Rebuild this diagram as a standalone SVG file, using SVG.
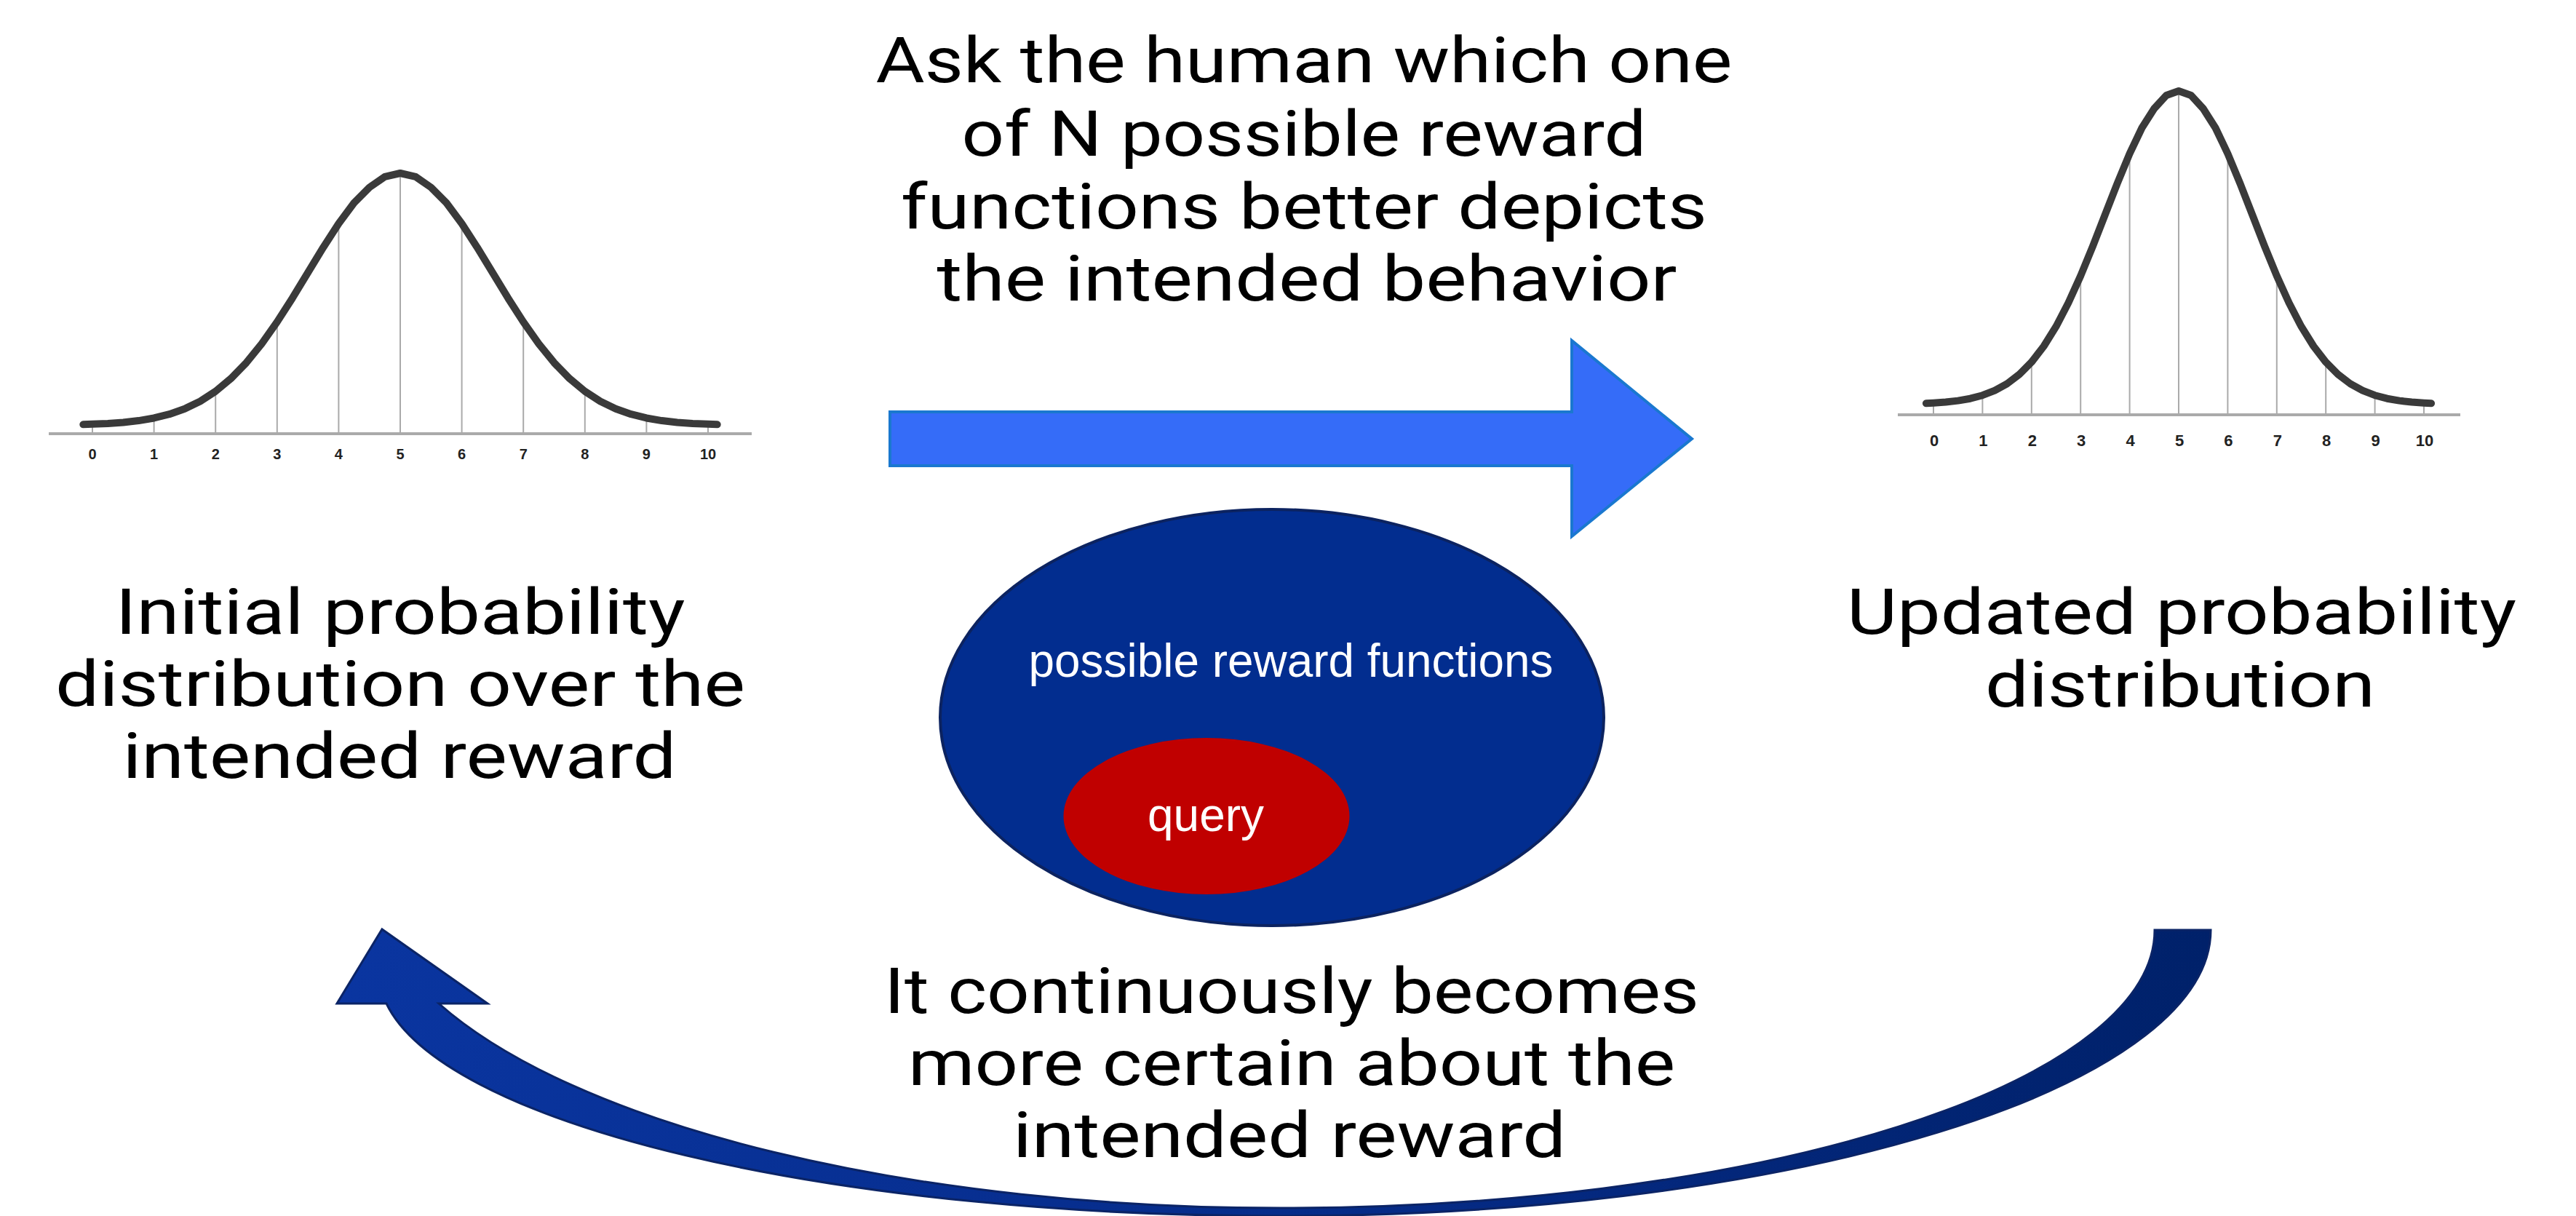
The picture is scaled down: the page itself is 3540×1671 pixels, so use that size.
<svg xmlns="http://www.w3.org/2000/svg" width="3540" height="1671" viewBox="0 0 3540 1671">
  <style>
    .lbl { font-family: Roboto, "Liberation Sans", sans-serif; font-size: 88px; fill: #000; text-anchor: middle; }
    .tick { font-family: "Liberation Sans", Arial, sans-serif; font-weight: bold; fill: #222; text-anchor: middle; }
    .inner { font-family: "Liberation Sans", Arial, sans-serif; font-size: 64px; fill: #fff; text-anchor: middle; }
    .axis { stroke: #aaaaaa; stroke-width: 4; fill: none; }
    .vline { stroke: #aaaaaa; stroke-width: 2; fill: none; }
    .bell { stroke: #3a3a3a; stroke-width: 10; fill: none; stroke-linecap: round; stroke-linejoin: round; }
  </style>
  <defs>
    <path id="bellCurve" vector-effect="non-scaling-stroke" d="M-515,-35.4 L-500,-36.7 L-475,-39.3 L-450,-43.5 L-425,-50.1 L-400,-60.2 L-375,-74.9 L-350,-95.8 L-325,-124.5 L-300,-162.7 L-275,-211.8 L-250,-272.6 L-225,-345.4 L-200,-429 L-175,-521.1 L-150,-618.2 L-125,-715.2 L-100,-806.6 L-75,-885.9 L-50,-945.5 L-25,-986.6 L0,-1000 L25,-986.6 L50,-945.5 L75,-885.9 L100,-806.6 L125,-715.2 L150,-618.2 L175,-521.1 L200,-429 L225,-345.4 L250,-272.6 L275,-211.8 L300,-162.7 L325,-124.5 L350,-95.8 L375,-74.9 L400,-60.2 L425,-50.1 L450,-43.5 L475,-39.3 L500,-36.7 L515,-35.4"/>
    <path id="bellLines" vector-effect="non-scaling-stroke" d="M-500,0V-36.7 M-400,0V-60.2 M-300,0V-162.7 M-200,0V-429 M-100,0V-806.6 M0,0V-1000 M100,0V-806.6 M200,0V-429 M300,0V-162.7 M400,0V-60.2 M500,0V-36.7"/>
    <linearGradient id="loopGrad" x1="0" y1="0" x2="1" y2="0">
      <stop offset="0" stop-color="#0a35a0"/>
      <stop offset="0.5" stop-color="#062c8a"/>
      <stop offset="1" stop-color="#00216a"/>
    </linearGradient>
  </defs>

  <rect x="0" y="0" width="3540" height="1671" fill="#ffffff"/>

  <!-- Left distribution node -->
  <g id="initial-distribution">
    <line class="axis" x1="67" y1="596" x2="1033" y2="596"/>
    <g transform="translate(550,596) scale(0.846,0.358)">
      <use href="#bellLines" class="vline"/>
      <use href="#bellCurve" class="bell"/>
    </g>
    <g class="tick" font-size="20">
      <text x="127" y="631">0</text>
      <text x="211.6" y="631">1</text>
      <text x="296.2" y="631">2</text>
      <text x="380.8" y="631">3</text>
      <text x="465.4" y="631">4</text>
      <text x="550" y="631">5</text>
      <text x="634.6" y="631">6</text>
      <text x="719.2" y="631">7</text>
      <text x="803.8" y="631">8</text>
      <text x="888.4" y="631">9</text>
      <text x="973" y="631">10</text>
    </g>
    <text class="lbl" x="550" y="871" textLength="783" lengthAdjust="spacingAndGlyphs">Initial probability</text>
    <text class="lbl" x="550" y="970" textLength="948" lengthAdjust="spacingAndGlyphs">distribution over the</text>
    <text class="lbl" x="549" y="1069" textLength="761" lengthAdjust="spacingAndGlyphs">intended reward</text>
  </g>

  <!-- Right distribution node -->
  <g id="updated-distribution">
    <line class="axis" x1="2608" y1="570" x2="3381" y2="570"/>
    <g transform="translate(2994,570) scale(0.674,0.445)">
      <use href="#bellLines" class="vline"/>
      <use href="#bellCurve" class="bell"/>
    </g>
    <g class="tick" font-size="22">
      <text x="2658" y="613">0</text>
      <text x="2725.4" y="613">1</text>
      <text x="2792.8" y="613">2</text>
      <text x="2860.2" y="613">3</text>
      <text x="2927.6" y="613">4</text>
      <text x="2995" y="613">5</text>
      <text x="3062.4" y="613">6</text>
      <text x="3129.8" y="613">7</text>
      <text x="3197.2" y="613">8</text>
      <text x="3264.6" y="613">9</text>
      <text x="3332" y="613">10</text>
    </g>
    <text class="lbl" x="2998" y="871" textLength="920" lengthAdjust="spacingAndGlyphs">Updated probability</text>
    <text class="lbl" x="2996" y="971" textLength="536" lengthAdjust="spacingAndGlyphs">distribution</text>
  </g>

  <!-- Reward function set node -->
  <g id="reward-functions">
    <ellipse cx="1748" cy="986" rx="456" ry="286" fill="#022d8f" stroke="#0c2360" stroke-width="4"/>
    <text class="inner" x="1774" y="930" textLength="721" lengthAdjust="spacingAndGlyphs">possible reward functions</text>
    <g id="query">
      <ellipse cx="1658" cy="1121.5" rx="196.5" ry="107.5" fill="#c00000"/>
      <text class="inner" x="1657" y="1141.5" textLength="160" lengthAdjust="spacingAndGlyphs">query</text>
    </g>
  </g>

  <!-- Connectors -->
  <g id="connectors">
    <path id="ask-arrow" d="M1223,566 H2160 V468 L2325,603 L2160,737 V640 H1223 Z" fill="#356cf8" stroke="#1a78cf" stroke-width="4" stroke-linejoin="miter"/>
    <path id="loop-arrow" d="M3038,1278 A1278,393 0 0 1 1760,1671 A1240,335 0 0 1 531,1379 L463,1379 L525,1277 L670,1379 L603,1379 A1250,452 0 0 0 1760,1660 A1201,382 0 0 0 2961,1278 Z" fill="url(#loopGrad)" stroke="#0b2466" stroke-width="3" stroke-linejoin="miter"/>
  </g>

  <!-- Connector labels -->
  <g id="ask-label">
    <text class="lbl" x="1792" y="113" textLength="1177" lengthAdjust="spacingAndGlyphs">Ask the human which one</text>
    <text class="lbl" x="1792" y="214" textLength="941" lengthAdjust="spacingAndGlyphs">of N possible reward</text>
    <text class="lbl" x="1792" y="314" textLength="1108" lengthAdjust="spacingAndGlyphs">functions better depicts</text>
    <text class="lbl" x="1796" y="413" textLength="1017" lengthAdjust="spacingAndGlyphs">the intended behavior</text>
  </g>
  <g id="loop-label">
    <text class="lbl" x="1775" y="1392" textLength="1120" lengthAdjust="spacingAndGlyphs">It continuously becomes</text>
    <text class="lbl" x="1775" y="1491" textLength="1054" lengthAdjust="spacingAndGlyphs">more certain about the</text>
    <text class="lbl" x="1772" y="1590" textLength="760" lengthAdjust="spacingAndGlyphs">intended reward</text>
  </g>
</svg>
